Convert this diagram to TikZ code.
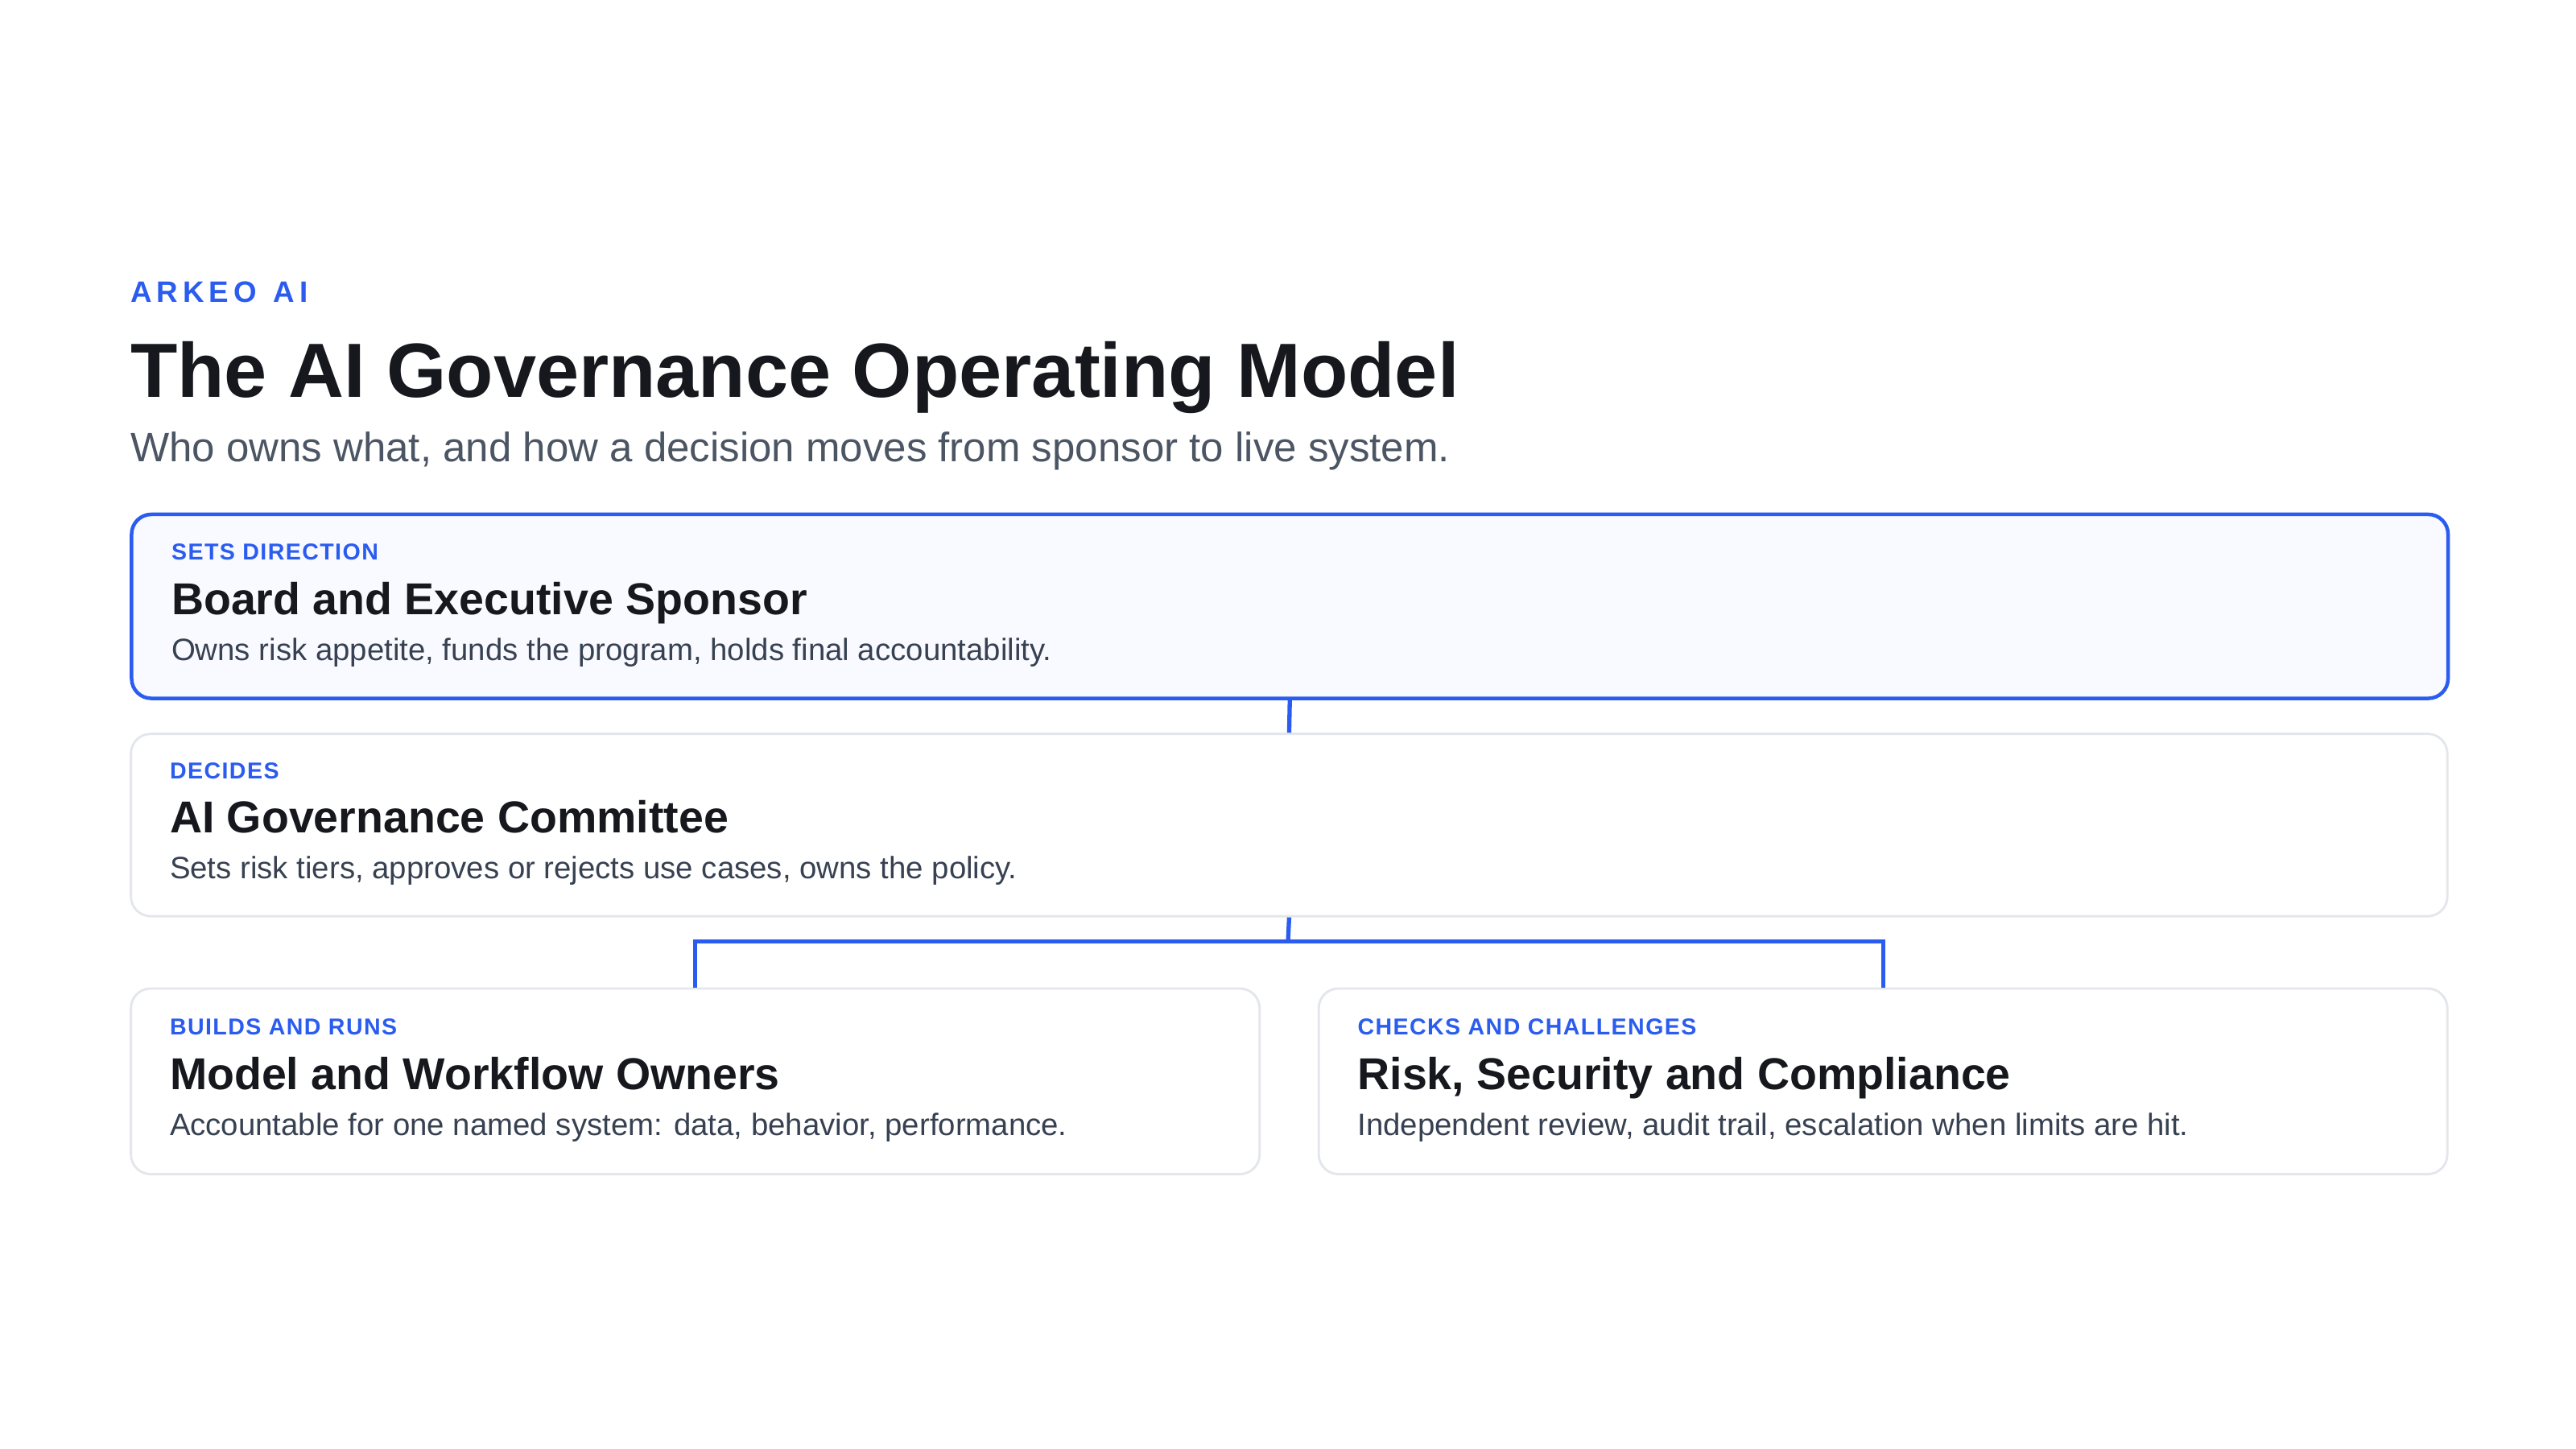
\documentclass[tikz,border=0pt]{standalone}
\usepackage{fontspec}
\setmainfont{Liberation Sans}
\definecolor{blu}{HTML}{2B5CF0}
\definecolor{ink}{HTML}{16181D}
\definecolor{sub}{HTML}{4B5563}
\definecolor{desc}{HTML}{374151}
\definecolor{bord}{HTML}{E3E6EB}
\definecolor{pale}{HTML}{F8FAFF}
\begin{document}
\begin{tikzpicture}[x=0.5pt,y=-0.5pt,
 box/.style={draw=bord,line width=0.7pt,rounded corners=6pt,fill=white},
 hibox/.style={draw=blu,line width=1.1pt,rounded corners=6pt,fill=pale},
 lab/.style={anchor=base west,text=blu,font=\bfseries\fontsize{7}{8}\selectfont\addfontfeature{LetterSpace=5},inner sep=0},
 ttl/.style={anchor=base west,text=ink,font=\bfseries\fontsize{13.6}{16}\selectfont,inner sep=0},
 dsc/.style={anchor=base west,text=desc,font=\fontsize{9.4}{11}\selectfont,inner sep=0},
 con/.style={draw=blu,line width=1.3pt}]
\useasboundingbox[fill=white] (0,0) rectangle (1568,882);
\node[anchor=base west,inner sep=0,text=blu,font=\bfseries\fontsize{9}{10}\selectfont] (brand) at (79,184) {A\,R\,K\,E\,O\ \ A\,I};
\node[anchor=base west,inner sep=0,text=ink,font=\bfseries\fontsize{23.4}{28}\selectfont] (title) at (79,242) {The AI Governance Operating Model};
\node[anchor=base west,inner sep=0,text=sub,font=\fontsize{12.5}{14}\selectfont] (subt) at (79,281) {Who owns what, and how a decision moves from sponsor to live system.};
\node[hibox,anchor=north west,minimum width=1410*0.5pt,minimum height=112*0.5pt,inner sep=0] (b1) at (79,312) {};
\node[box,anchor=north west,minimum width=1410*0.5pt,minimum height=111*0.5pt,inner sep=0] (b2) at (79,446) {};
\node[box,anchor=north west,minimum width=687*0.5pt,minimum height=113*0.5pt,inner sep=0] (b3) at (79,601) {};
\node[box,anchor=north west,minimum width=687*0.5pt,minimum height=113*0.5pt,inner sep=0] (b4) at (802,601) {};
\node[lab] at (104,341) {SETS DIRECTION};
\node[ttl] at (104,374) {Board and Executive Sponsor};
\node[dsc] at (104,402) {Owns risk appetite, funds the program, holds final accountability.};
\node[lab] at (103,474) {DECIDES};
\node[ttl] at (103,507) {AI Governance Committee};
\node[dsc] at (103,535) {Sets risk tiers, approves or rejects use cases, owns the policy.};
\node[lab] at (103,630) {BUILDS AND RUNS};
\node[ttl] at (103,663) {Model and Workflow Owners};
\node[dsc] at (103,691) {Accountable for one named system: data, behavior, performance.};
\node[lab] at (826,630) {CHECKS AND CHALLENGES};
\node[ttl] at (826,663) {Risk, Security and Compliance};
\node[dsc] at (826,691) {Independent review, audit trail, escalation when limits are hit.};
\coordinate (j) at (784,573);
\draw[con] (b1.south) -- (b2.north);
\draw[con] (b2.south) -- (j);
\draw[con] (j) -| (b3.north);
\draw[con] (j) -| (b4.north);
\end{tikzpicture}
\end{document}
